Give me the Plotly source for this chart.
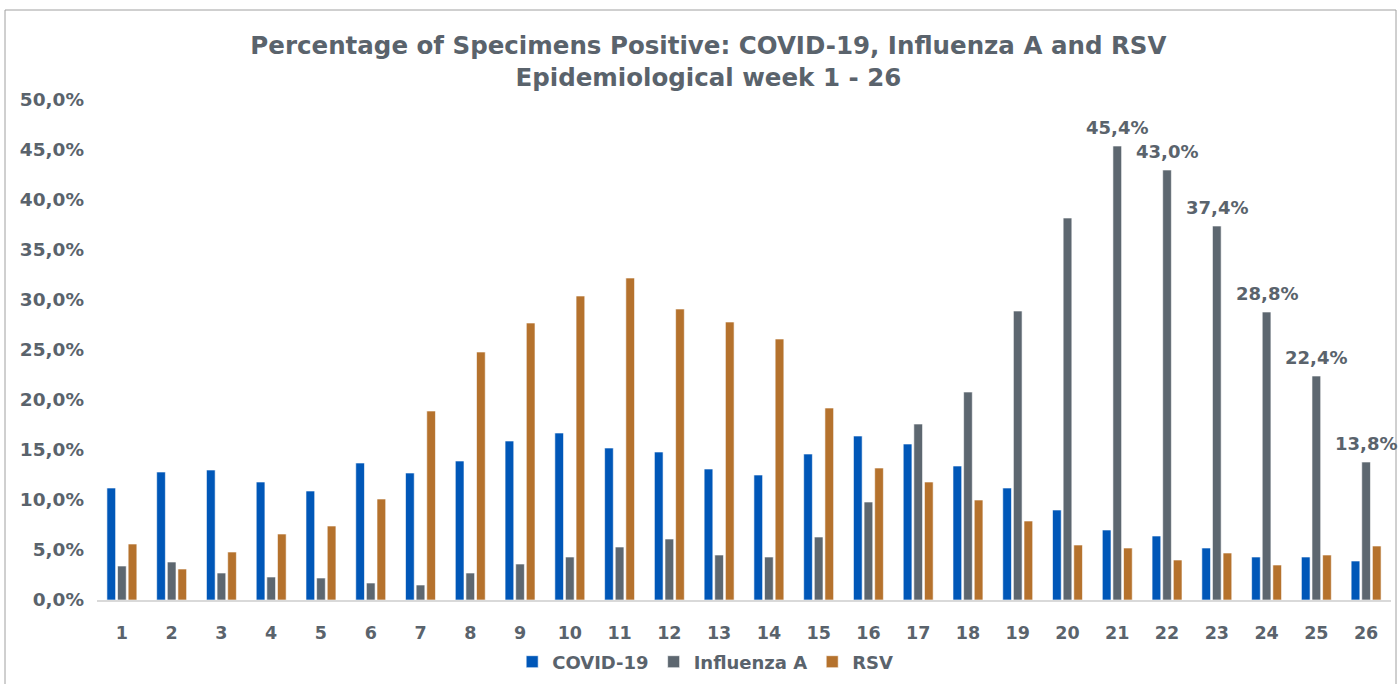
import plotly.graph_objects as go

weeks = [str(i) for i in range(1, 27)]
covid = [11.2, 12.8, 13.0, 11.8, 10.9, 13.7, 12.7, 13.9, 15.9, 16.7, 15.2, 14.8, 13.1,
         12.5, 14.6, 16.4, 15.6, 13.4, 11.2, 9.0, 7.0, 6.4, 5.2, 4.3, 4.3, 3.9]
flu_a = [3.4, 3.8, 2.7, 2.3, 2.2, 1.7, 1.5, 2.7, 3.6, 4.3, 5.3, 6.1, 4.5,
         4.3, 6.3, 9.8, 17.6, 20.8, 28.9, 38.2, 45.4, 43.0, 37.4, 28.8, 22.4, 13.8]
rsv = [5.6, 3.1, 4.8, 6.6, 7.4, 10.1, 18.9, 24.8, 27.7, 30.4, 32.2, 29.1, 27.8,
       26.1, 19.2, 13.2, 11.8, 10.0, 7.9, 5.5, 5.2, 4.0, 4.7, 3.5, 4.5, 5.4]
labeled_weeks = ["21", "22", "23", "24", "25", "26"]
y_ticks = [0, 5, 10, 15, 20, 25, 30, 35, 40, 45, 50]

FONT = "DejaVu Sans"
TXT = "#5a636c"

def pct(v):
    return f"{v:.1f}".replace(".", ",") + "%"

fig = go.Figure()
for name, vals, col in [("COVID-19", covid, "#0057B8"),
                        ("Influenza A", flu_a, "#5D6770"),
                        ("RSV", rsv, "#B5722D")]:
    fig.add_trace(go.Bar(x=weeks, y=vals, name=name,
                         marker=dict(color=col, line=dict(color="rgba(255,255,255,0.6)", width=1))))

for i, (w, v) in enumerate(zip(weeks, flu_a)):
    if w in labeled_weeks:
        fig.add_annotation(x=i, y=v, text=pct(v), showarrow=False,
                           xanchor="center", yanchor="bottom", yshift=6,
                           font=dict(family=FONT, size=18, color=TXT, weight="bold"))

fig.update_layout(
    width=1400, height=684,
    margin=dict(l=97, r=9, t=100, b=84, autoexpand=False),
    paper_bgcolor="white", plot_bgcolor="white",
    barmode="group", bargap=0.36, bargroupgap=0.18,
    title=dict(text="Percentage of Specimens Positive: COVID-19, Influenza A and RSV<br>Epidemiological week 1 - 26",
               x=0.506, xref="container", xanchor="center",
               y=1 - 54 / 684, yref="container", yanchor="middle",
               font=dict(family=FONT, size=24.5, color=TXT, weight="bold")),
    font=dict(family=FONT, color=TXT),
    legend=dict(orientation="h", x=0.47, xref="paper", xanchor="center",
                y=-0.124, yanchor="middle",
                font=dict(family=FONT, size=18, color=TXT, weight="bold"),
                itemwidth=30, tracegroupgap=0),
    showlegend=True,
)
fig.update_xaxes(type="category", range=[-0.5, 25.5], automargin=False,
                 showgrid=False, showline=True, linecolor="#d9d9d9", linewidth=2,
                 ticks="", ticklabelstandoff=16,
                 tickfont=dict(family=FONT, size=17.5, color=TXT, weight="bold"))
fig.update_yaxes(range=[0, 50], automargin=False, showgrid=False, zeroline=False, showline=False,
                 tickvals=y_ticks, ticktext=[pct(v) for v in y_ticks],
                 tickfont=dict(family=FONT, size=18.5, color=TXT, weight="bold"), ticklabelstandoff=12)

fig.add_shape(type="rect", xref="paper", yref="paper",
              x0=(5 - 97) / 1294, x1=(1396 - 97) / 1294, y0=-0.3, y1=(600 - 10) / 500,
              line=dict(color="#a0a0a0", width=1), fillcolor="rgba(0,0,0,0)", layer="below")

fig.write_html("out.html", config={"displayModeBar": False},
               post_script="document.body.style.margin='0';document.body.style.padding='0';")
